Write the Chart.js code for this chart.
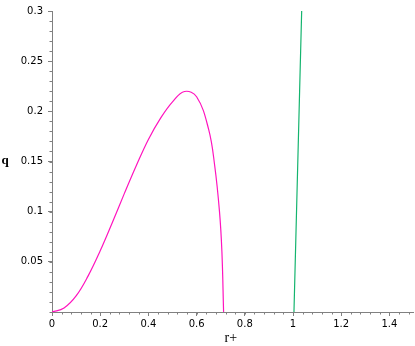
<!DOCTYPE html>
<html>
<head>
<meta charset="utf-8">
<script src="https://cdn.jsdelivr.net/npm/chart.js@4"></script>
<style>
  html, body { margin: 0; padding: 0; background: #fff; }
  #wrap { position: relative; width: 415px; height: 346px; }
</style>
</head>
<body>
<div id="wrap"><canvas id="plot"></canvas></div>
<script>
// values
const pinkX  = [0, 0.05, 0.1, 0.15, 0.2, 0.25, 0.3, 0.35, 0.4, 0.45, 0.5, 0.55, 0.6, 0.65, 0.675, 0.695, 0.705, 0.712];
const pinkY  = [0, 0.004, 0.016, 0.036, 0.061, 0.089, 0.118, 0.146, 0.172, 0.193, 0.2095, 0.2198, 0.2145, 0.182, 0.146, 0.1, 0.06, 0];
const greenX = [1.004, 1.019, 1.036];
const greenY = [0, 0.141, 0.3];

const xTicks = [0, 0.2, 0.4, 0.6, 0.8, 1, 1.2, 1.4];
const yTicks = [0.05, 0.1, 0.15, 0.2, 0.25, 0.3];
const xMinorStep = 0.04;
const yMinorStep = 0.01;
const xTitle = 'r+';
const yTitle = 'q';

const toPoints = (xs, ys) => xs.map((x, i) => ({ x: x, y: ys[i] }));
const axisColor = '#808080';
const tickFont = { family: 'DejaVu Sans', size: 10 };

// short minor ticks + axis titles (Maple style)
const extras = {
  id: 'extras',
  afterDraw(chart) {
    const ctx = chart.ctx;
    const xs = chart.scales.x, ys = chart.scales.y;
    const area = chart.chartArea;
    ctx.save();
    ctx.strokeStyle = axisColor;
    ctx.lineWidth = 1;
    ctx.beginPath();
    for (let v = 0; v <= xs.max + 1e-9; v += xMinorStep) {
      const px = Math.round(xs.getPixelForValue(v)) + 0.5;
      ctx.moveTo(px, area.bottom);
      ctx.lineTo(px, area.bottom + 2.5);
    }
    for (let v = 0; v <= ys.max + 1e-9; v += yMinorStep) {
      const py = Math.round(ys.getPixelForValue(v)) + 0.5;
      ctx.moveTo(area.left - 2.5, py);
      ctx.lineTo(area.left, py);
    }
    ctx.stroke();

    ctx.fillStyle = '#000';
    ctx.font = '14px "Liberation Serif"';
    ctx.textAlign = 'center';
    ctx.textBaseline = 'middle';
    ctx.fillText(xTitle, (area.left + area.right) / 2 - 2, 338);
    ctx.font = 'bold 13px "Liberation Serif"';
    ctx.fillText(yTitle, 5, (area.top + area.bottom) / 2 - 1);
    ctx.restore();
  }
};

new Chart(document.getElementById('plot'), {
  type: 'scatter',
  data: {
    datasets: [
      {
        data: toPoints(pinkX, pinkY),
        showLine: true,
        borderColor: 'rgb(255, 20, 190)',
        borderWidth: 1.2,
        pointRadius: 0,
        tension: 0.4
      },
      {
        data: toPoints(greenX, greenY),
        showLine: true,
        borderColor: 'rgb(20, 180, 110)',
        borderWidth: 1.2,
        pointRadius: 0,
        tension: 0.3
      }
    ]
  },
  options: {
    responsive: true,
    maintainAspectRatio: false,
    animation: false,
    devicePixelRatio: 1,
    layout: { padding: { top: 3, right: 1.5, left: 0, bottom: 0 } },
    plugins: { legend: { display: false }, tooltip: { enabled: false } },
    scales: {
      x: {
        type: 'linear',
        min: 0,
        max: 1.5,
        afterBuildTicks: (s) => { s.ticks = xTicks.map(v => ({ value: v })); },
        afterFit: (s) => { s.height = 34; },
        border: { display: true, color: axisColor, width: 1 },
        grid: { drawOnChartArea: false, drawTicks: true, tickLength: 4, tickColor: axisColor },
        ticks: { color: '#000', font: tickFont, padding: 2, maxRotation: 0, autoSkip: false,
                 callback: (v) => String(v) }
      },
      y: {
        type: 'linear',
        min: 0,
        max: 0.3,
        afterBuildTicks: (s) => { s.ticks = yTicks.map(v => ({ value: v })); },
        afterFit: (s) => { s.width = 52; },
        border: { display: true, color: axisColor, width: 1 },
        grid: { drawOnChartArea: false, drawTicks: true, tickLength: 4, tickColor: axisColor },
        ticks: { color: '#000', font: tickFont, padding: 5, autoSkip: false,
                 callback: (v) => String(v) }
      }
    }
  },
  plugins: [extras]
});
</script>
</body>
</html>
